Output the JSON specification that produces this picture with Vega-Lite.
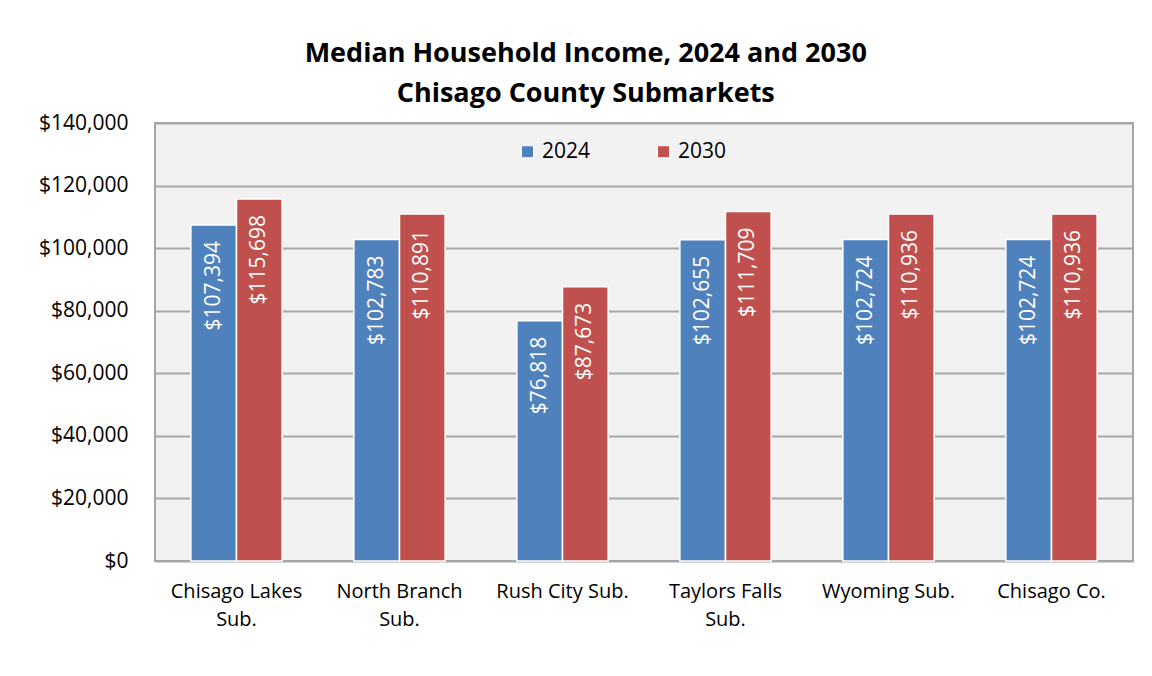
{
  "$schema": "https://vega.github.io/schema/vega-lite/v6.json",
  "width": 978,
  "height": 438,
  "autosize": {"type": "none"},
  "padding": {"left": 155, "top": 123, "right": 19, "bottom": 115},
  "background": "white",
  "title": {
    "text": ["Median Household Income, 2024 and 2030", "Chisago County Submarkets"],
    "font": "Open Sans",
    "fontSize": 27,
    "fontWeight": "bold",
    "color": "#000000",
    "lineHeight": 40,
    "anchor": "middle",
    "frame": "bounds",
    "offset": 4
  },
  "data": {
    "values": [
      {"area": "Chisago Lakes Sub.", "year": "2024", "income": 107394},
      {"area": "Chisago Lakes Sub.", "year": "2030", "income": 115698},
      {"area": "North Branch Sub.", "year": "2024", "income": 102783},
      {"area": "North Branch Sub.", "year": "2030", "income": 110891},
      {"area": "Rush City Sub.", "year": "2024", "income": 76818},
      {"area": "Rush City Sub.", "year": "2030", "income": 87673},
      {"area": "Taylors Falls Sub.", "year": "2024", "income": 102655},
      {"area": "Taylors Falls Sub.", "year": "2030", "income": 111709},
      {"area": "Wyoming Sub.", "year": "2024", "income": 102724},
      {"area": "Wyoming Sub.", "year": "2030", "income": 110936},
      {"area": "Chisago Co.", "year": "2024", "income": 102724},
      {"area": "Chisago Co.", "year": "2030", "income": 110936}
    ]
  },
  "encoding": {
    "x": {
      "field": "area",
      "type": "nominal",
      "sort": null,
      "title": null,
      "scale": {"paddingInner": 0.44, "paddingOuter": 0.22},
      "axis": {
        "labelAngle": 0,
        "labelFont": "Open Sans",
        "labelFontSize": 20,
        "labelColor": "#000000",
        "labelPadding": 20,
        "labelBaseline": "top",
        "labelLineHeight": 28,
        "ticks": false,
        "domain": false,
        "labelExpr": "length(datum.label) > 15 ? [slice(datum.label, 0, lastindexof(datum.label, ' ')), slice(datum.label, lastindexof(datum.label, ' ') + 1)] : datum.label"
      }
    },
    "xOffset": {"field": "year", "type": "nominal", "scale": {"paddingInner": 0}},
    "y": {
      "field": "income",
      "type": "quantitative",
      "title": null,
      "scale": {"domain": [0, 140000]},
      "axis": {
        "values": [0, 20000, 40000, 60000, 80000, 100000, 120000, 140000],
        "format": "$,.0f",
        "labelFont": "Open Sans",
        "labelFontSize": 21,
        "labelColor": "#000000",
        "labelPadding": 27,
        "ticks": false,
        "domain": false,
        "grid": true,
        "gridColor": "#a6a6a6",
        "gridWidth": 2
      }
    }
  },
  "layer": [
    {
      "mark": {"type": "bar", "stroke": "white", "strokeWidth": 1.5},
      "encoding": {
        "color": {
          "field": "year",
          "type": "nominal",
          "scale": {"range": ["#4f81bd", "#c0504d"]},
          "legend": {
            "title": null,
            "orient": "none",
            "legendX": 362,
            "legendY": 18,
            "direction": "horizontal",
            "symbolType": "square",
            "symbolSize": 144,
            "symbolStrokeColor": "white",
            "symbolStrokeWidth": 1,
            "labelFont": "Open Sans",
            "labelFontSize": 21,
            "labelColor": "#000000",
            "labelOffset": 4,
            "columnPadding": 62
          }
        }
      }
    },
    {
      "mark": {
        "type": "text",
        "angle": 270,
        "align": "right",
        "baseline": "middle",
        "dx": -16,
        "color": "white",
        "font": "Open Sans",
        "fontSize": 21
      },
      "encoding": {
        "text": {"field": "income", "type": "quantitative", "format": "$,.0f"}
      }
    }
  ],
  "config": {
    "view": {"fill": "#f2f2f2", "stroke": "#a6a6a6", "strokeWidth": 2}
  }
}
